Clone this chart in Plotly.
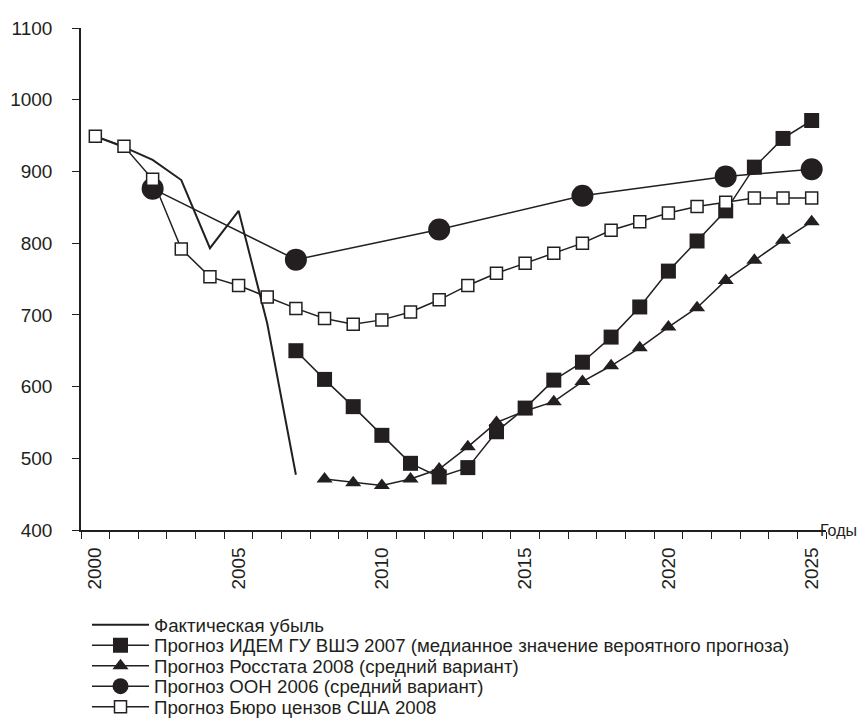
import plotly.graph_objects as go

# ---- data ----
actual_years = [2000, 2001, 2002, 2003, 2004, 2005, 2006, 2007]
actual_vals = [949, 934, 916, 888, 793, 845, 688, 477]

idem_years = list(range(2007, 2026))
idem_vals = [650, 610, 572, 532, 493, 474, 487, 537, 570, 609, 634, 669, 711, 761, 803, 845, 906, 946, 971]

rosstat_years = list(range(2008, 2026))
rosstat_vals = [471, 466, 462, 471, 485, 516, 550, 566, 579, 607, 629, 654, 683, 710, 748, 776, 804, 830]

un_years = [2002, 2007, 2012, 2017, 2022, 2025]
un_vals = [876, 777, 819, 866, 893, 903]

us_years = list(range(2000, 2026))
us_vals = [949, 935, 889, 792, 753, 741, 725, 709, 695, 687, 693, 704, 721, 741, 758, 772, 786, 800,
           818, 830, 842, 851, 857, 863, 863, 863]

names = [
    "Фактическая убыль",
    "Прогноз ИДЕМ ГУ ВШЭ 2007 (медианное значение вероятного прогноза)",
    "Прогноз Росстата 2008 (средний вариант)",
    "Прогноз ООН 2006 (средний вариант)",
    "Прогноз Бюро цензов США 2008",
]

x_tick_vals = [2000, 2005, 2010, 2015, 2020, 2025]
x_tick_text = ["2000", "2005", "2010", "2015", "2020", "2025"]
y_tick_vals = [400, 500, 600, 700, 800, 900, 1000, 1100]
axis_title_x = "Годы"

INK = "#231f20"
FONT = "Liberation Sans, Arial, sans-serif"
W, H = 866, 724

fig = go.Figure()
fig.add_trace(go.Scatter(x=actual_years, y=actual_vals, mode="lines", name=names[0],
                         legend="legend",
                         line=dict(color=INK, width=2)))
fig.add_trace(go.Scatter(x=idem_years, y=idem_vals, mode="lines+markers", name=names[1],
                         legend="legend2",
                         line=dict(color=INK, width=1.5),
                         marker=dict(symbol="square", size=15, color=INK)))
fig.add_trace(go.Scatter(x=rosstat_years, y=rosstat_vals, mode="lines+markers", name=names[2],
                         legend="legend3",
                         line=dict(color=INK, width=1.5),
                         marker=dict(symbol="triangle-up", size=14, color=INK)))
fig.add_trace(go.Scatter(x=un_years, y=un_vals, mode="lines+markers", name=names[3],
                         legend="legend4",
                         line=dict(color=INK, width=1.5),
                         marker=dict(symbol="circle", size=22, color=INK)))
fig.add_trace(go.Scatter(x=us_years, y=us_vals, mode="lines+markers", name=names[4],
                         legend="legend5",
                         line=dict(color=INK, width=1.5),
                         marker=dict(symbol="square", size=12, color="white",
                                     line=dict(color=INK, width=1.5))))

legend_rows = [617, 637.5, 658, 678.5, 699]  # row anchors in px from top


def legend_box(row_y):
    return dict(
        xref="container", yref="container",
        x=79 / W, y=1 - row_y / H, xanchor="left", yanchor="middle",
        orientation="v", itemwidth=57,
        font=dict(family=FONT, size=18.7, color=INK),
        bgcolor="rgba(0,0,0,0)", borderwidth=0,
    )


fig.update_layout(
    width=W, height=H,
    margin=dict(l=73, r=48, t=20, b=202, autoexpand=False),
    paper_bgcolor="white", plot_bgcolor="white",
    font=dict(family=FONT, size=18, color=INK),
    showlegend=True,
    legend=legend_box(legend_rows[0]),
    legend2=legend_box(legend_rows[1]),
    legend3=legend_box(legend_rows[2]),
    legend4=legend_box(legend_rows[3]),
    legend5=legend_box(legend_rows[4]),
    xaxis=dict(
        range=[1999.5, 2025.5],
        tickmode="array", tickvals=x_tick_vals, ticktext=x_tick_text,
        tickangle=-90, ticks="outside", ticklen=8, tickcolor="rgba(0,0,0,0)",
        tickfont=dict(family=FONT, size=19, color=INK),
        minor=dict(tickmode="linear", tick0=1999.5, dtick=1, ticks="outside",
                   ticklen=7, tickwidth=1.3, tickcolor=INK, showgrid=False),
        showline=True, linecolor=INK, linewidth=1.5,
        showgrid=False, zeroline=False,
    ),
    yaxis=dict(
        range=[400, 1100],
        tickmode="array", tickvals=y_tick_vals,
        ticks="outside", ticklen=7, tickwidth=1.3, tickcolor=INK,
        ticklabelstandoff=16,
        tickfont=dict(family=FONT, size=19, color=INK),
        showline=True, linecolor=INK, linewidth=1.5,
        showgrid=False, zeroline=False,
    ),
    annotations=[dict(
        text=axis_title_x, xref="paper", yref="y", x=1, y=400,
        xanchor="left", yanchor="middle", showarrow=False, xshift=-7,
        borderpad=0,
        font=dict(family=FONT, size=16, color=INK),
    )],
)

fig.write_html("out.html")
